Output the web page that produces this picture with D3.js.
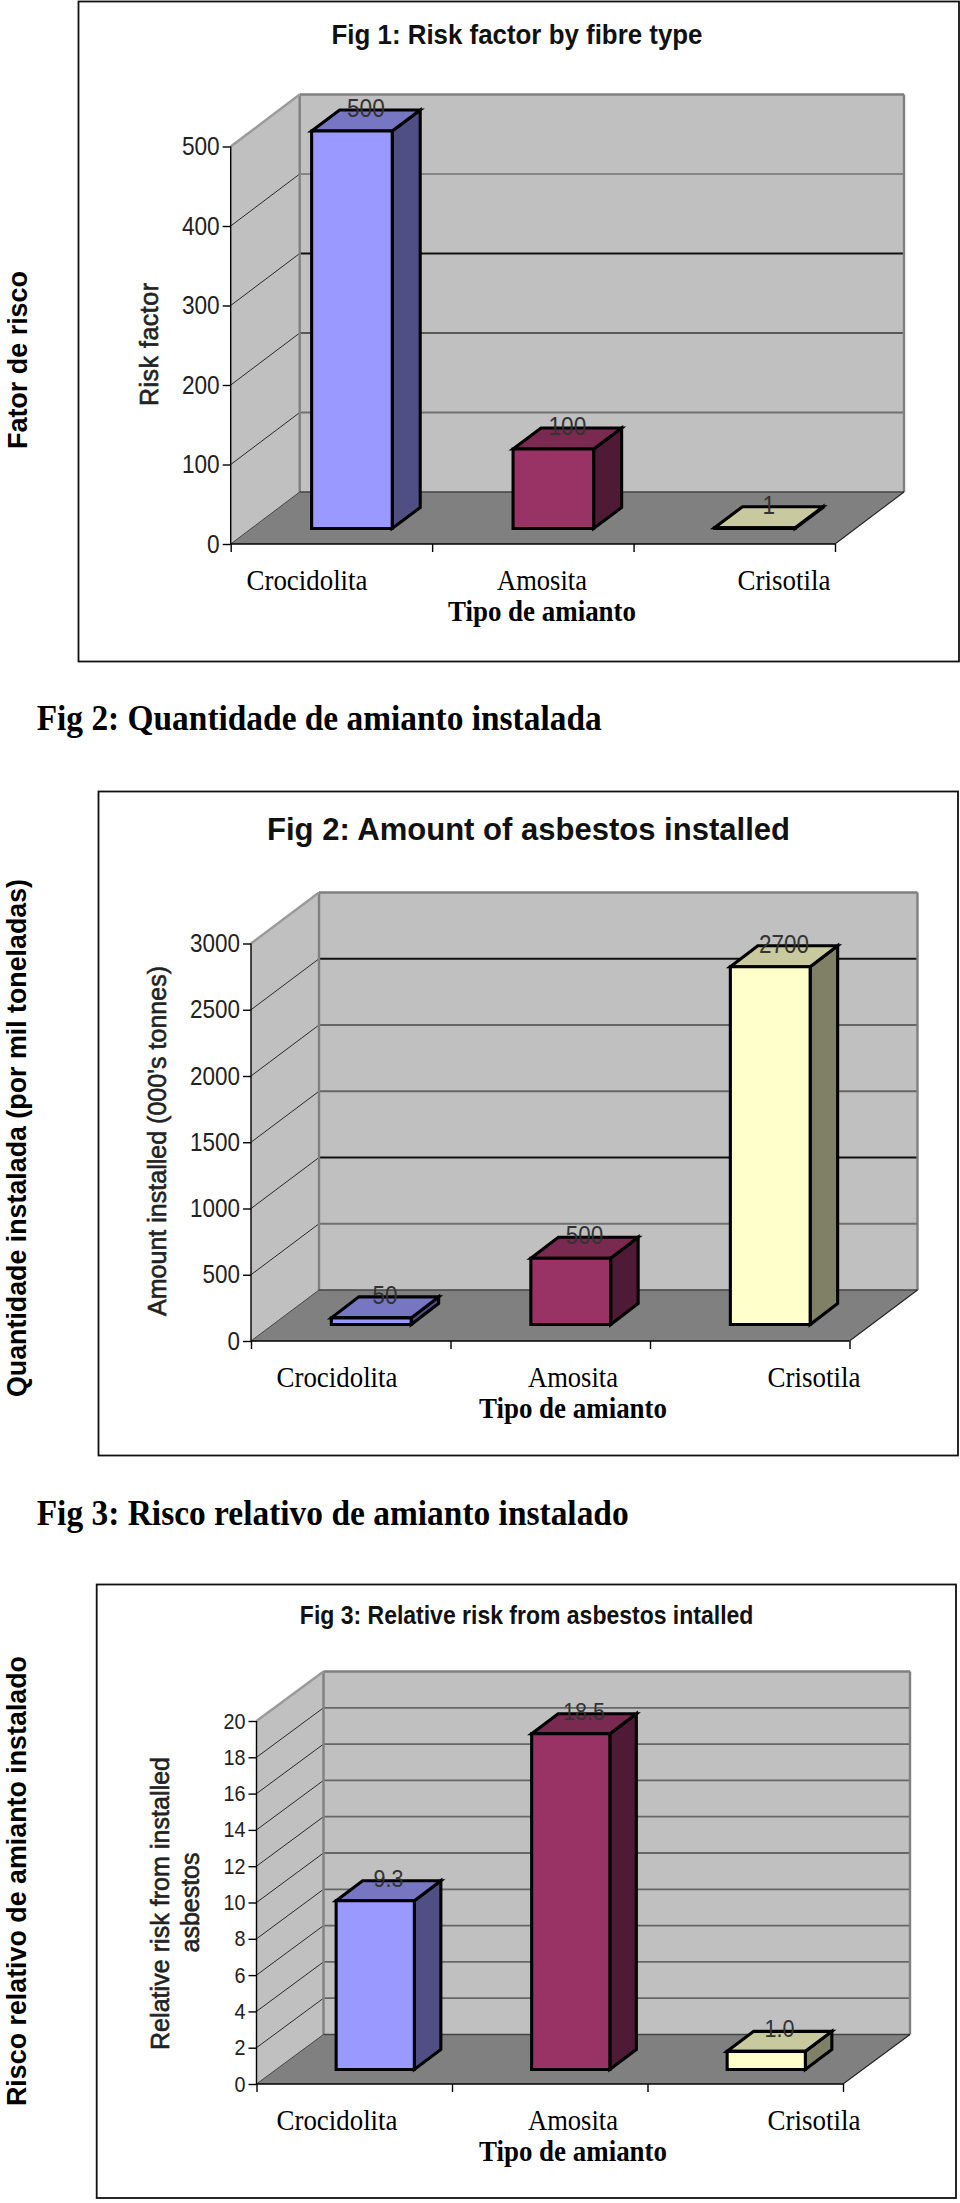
<!DOCTYPE html>
<html><head><meta charset="utf-8">
<script src="https://d3js.org/d3.v7.min.js"></script>
<style>html,body{margin:0;padding:0;background:#fff}svg{display:block}</style>
</head><body><svg id="c" width="960" height="2203"></svg>
<script>
const categories = ["Crocidolita","Amosita","Crisotila"];
const riskValues = [500,100,1];
const amountValues = [50,500,2700];
const relativeValues = [9.3,18.5,1.0];
const riskLabels = ["500","100","1"];
const amountLabels = ["50","500","2700"];
const relativeLabels = ["9.3","18.5","1.0"];
const riskTicks = [0,100,200,300,400,500];
const amountTicks = [0,500,1000,1500,2000,2500,3000];
const relativeTicks = [0,2,4,6,8,10,12,14,16,18,20];
const xTitle = "Tipo de amianto";
const barColors = [
  {front:"#9999ff",side:"#4f4f85",top:"#7676c2"},
  {front:"#993366",side:"#4f1a35",top:"#7a2951"},
  {front:"#ffffcc",side:"#808066",top:"#c9c9a0"}
];
const SANS="'Liberation Sans',Arial,sans-serif", SERIF="'Liberation Serif','Times New Roman',serif";
const svg=d3.select("#c");

function txt(s,o){
  const t=s.append("text").text(o.t)
    .attr("font-family",o.f||SANS).attr("font-size",o.s)
    .attr("font-weight",o.w||"normal").attr("fill",o.c||"#000")
    .attr("text-anchor",o.a||"middle");
  if(o.len) t.attr("textLength",o.len).attr("lengthAdjust",o.adj||"spacingAndGlyphs");
  if(o.sw) t.attr("stroke",o.c||"#000").attr("stroke-width",o.sw);
  if(o.rot) t.attr("transform",`translate(${o.x},${o.y}) rotate(-90)`);
  else t.attr("x",o.x).attr("y",o.y);
  return t;
}
const poly=(s,pts,fill)=>s.append("polygon").attr("points",pts.map(p=>p.join(",")).join(" ")).attr("fill",fill);
function outline(s,pts,fill,sw){
  return poly(s,pts,fill).attr("stroke","#000").attr("stroke-width",sw).attr("stroke-linejoin","miter");
}

function chart(c){
  const g=svg.append("g");
  g.append("rect").attr("x",c.frame[0]).attr("y",c.frame[1]).attr("width",c.frame[2]-c.frame[0]).attr("height",c.frame[3]-c.frame[1])
    .attr("fill","#fff").attr("stroke","#111").attr("stroke-width",1.8);
  const y=d3.scaleLinear().domain([0,c.max]).range([c.y0,c.yTop]);
  const xb=d3.scaleBand().domain(categories).range([c.x0,c.x1]).paddingInner(.6).paddingOuter(.3);
  const xe=d3.scaleLinear().domain([0,3]).range([c.x0,c.x1]);
  const {dx,dy}=c;
  poly(g,[[c.x0+dx,y(c.max)-dy],[c.x1+dx,y(c.max)-dy],[c.x1+dx,c.y0-dy],[c.x0+dx,c.y0-dy]],"#c0c0c0");
  poly(g,[[c.x0,y(c.max)],[c.x0+dx,y(c.max)-dy],[c.x0+dx,c.y0-dy],[c.x0,c.y0]],"#c0c0c0");
  poly(g,[[c.x0,c.y0],[c.x1,c.y0],[c.x1+dx,c.y0-dy],[c.x0+dx,c.y0-dy]],"#808080");
  const inner=c.ticks.filter(v=>v>0&&v<c.max);
  g.selectAll(null).data(inner).join("line")
    .attr("x1",c.x0+dx).attr("x2",c.x1+dx).attr("y1",v=>y(v)-dy).attr("y2",v=>y(v)-dy)
    .attr("stroke",(v,i)=>c.gridStyle[i%c.gridStyle.length]).attr("stroke-width",1.8);
  g.selectAll(null).data(inner).join("line")
    .attr("x1",c.x0).attr("x2",c.x0+dx).attr("y1",v=>y(v)).attr("y2",v=>y(v)-dy)
    .attr("stroke","#2a2a2a").attr("stroke-width",1);
  const edge=(a,b,col,w)=>g.append("line").attr("x1",a[0]).attr("y1",a[1]).attr("x2",b[0]).attr("y2",b[1]).attr("stroke",col).attr("stroke-width",w);
  edge([c.x0+dx,y(c.max)-dy],[c.x1+dx,y(c.max)-dy],"#808080",2.4);
  edge([c.x1+dx,y(c.max)-dy],[c.x1+dx,c.y0-dy],"#808080",2.4);
  edge([c.x0+dx,y(c.max)-dy],[c.x0+dx,c.y0-dy],"#808080",2.4);
  edge([c.x0,y(c.max)],[c.x0+dx,y(c.max)-dy],"#9a9a9a",2.4);
  edge([c.x0+dx,c.y0-dy],[c.x1+dx,c.y0-dy],"#444",1.4);
  edge([c.x0,c.y0],[c.x0+dx,c.y0-dy],"#444",1);
  edge([c.x1,c.y0],[c.x1+dx,c.y0-dy],"#222",1.1);
  const ay=g.append("g").attr("transform",`translate(${c.x0},0)`)
    .call(d3.axisLeft(y).tickValues(c.ticks).tickSize(8).tickPadding(3).tickFormat(d3.format("d")));
  ay.selectAll("text").attr("font-family",SANS).attr("font-size",c.tickSize).attr("fill","#222")
    .attr("textLength",v=>String(v).length*c.tickW).attr("lengthAdjust","spacingAndGlyphs");
  const ax=g.append("g").attr("transform",`translate(0,${c.y0})`)
    .call(d3.axisBottom(xe).tickValues([0,1,2,3]).tickSize(8).tickFormat(""));
  ax.selectAll("path,line").attr("stroke","#000").attr("stroke-width",1.4);
  ay.selectAll("path,line").attr("stroke","#000").attr("stroke-width",1.4);
  ax.select("path").attr("d",`M${c.x0},0H${c.x1}`);
  ay.select("path").attr("d",`M0,${y(c.max)}V${c.y0}`);
  const bw=xb.bandwidth(), ox=c.shift[0], oy=c.shift[1], bx=c.depth[0], by=c.depth[1];
  c.values.forEach((v,i)=>{
    const cat=categories[i], col=barColors[i];
    const L=xb(cat)+ox, R=L+bw, B=c.y0-oy, T=B-(c.y0-y(v));
    outline(g,[[R,T],[R+bx,T-by],[R+bx,B-by],[R,B]],col.side,3.1);
    outline(g,[[L,T],[L+bx,T-by],[R+bx,T-by],[R,T]],col.top,3.1);
    outline(g,[[L,T],[R,T],[R,B],[L,B]],col.front,3.1);
    const lab=c.labels[i];
    txt(g,{t:lab,x:(L+R)/2+bx/2,y:T-by+c.labelDy,s:c.labelSize,c:"#333",len:lab.replace(".","").length*c.labelW+(lab.includes(".")?c.labelW/2:0)});
  });
  txt(g,{t:c.title,x:c.titleX,y:c.titleY,s:c.titleSize,w:"bold",len:c.titleLen,c:"#111"});
  c.yTitle.forEach(l=>txt(g,{t:l.t,x:l.x,y:l.y,s:l.s,rot:true,len:l.len,c:"#222",sw:.6,adj:"spacing"}));
  txt(g,{t:c.side.t,x:c.side.x,y:c.side.y,s:c.side.s,w:"bold",rot:true,len:c.side.len});
  categories.forEach((cat,i)=>txt(g,{t:cat,x:c.catX[i],y:c.catY,s:29,f:SERIF,len:[121,90,93][i]}));
  txt(g,{t:xTitle,x:c.catX[1],y:c.catY+31,s:29,f:SERIF,w:"bold",len:188});
}

chart({frame:[78.5,1.5,959,661.5],x0:230.7,x1:835,y0:544,yTop:146.5,max:500,dx:69,dy:52,shift:[20.5,15.5],depth:[28,21],
  values:riskValues,labels:riskLabels,ticks:riskTicks,tickSize:25,tickW:12.6,labelSize:25,labelW:12.6,labelDy:7,
  gridStyle:["#707070","#585858","#111","#858585"],
  title:"Fig 1: Risk factor by fibre type",titleX:517,titleY:44,titleSize:28,titleLen:371,
  yTitle:[{t:"Risk factor",x:157.5,y:344.5,s:25,len:123}],
  side:{t:"Fator de risco",x:26.5,y:360,s:28,len:178},
  catX:[307,542,784],catY:590});
chart({frame:[98.5,791.5,958,1455.5],x0:251,x1:849.5,y0:1341,yTop:943.5,max:3000,dx:68,dy:51,shift:[20.5,16.5],depth:[27.5,21],
  values:amountValues,labels:amountLabels,ticks:amountTicks,tickSize:25,tickW:12.5,labelSize:25,labelW:12.5,labelDy:7,
  gridStyle:["#707070","#111","#666","#666","#111"],
  title:"Fig 2: Amount of asbestos installed",titleX:528.5,titleY:840,titleSize:32,titleLen:523,
  yTitle:[{t:"Amount installed (000's tonnes)",x:166,y:1141,s:25,len:350}],
  side:{t:"Quantidade instalada (por mil toneladas)",x:26,y:1138,s:28,len:518},
  catX:[337,573,814],catY:1387});
chart({frame:[96.7,1584.5,956,2198],x0:256.5,x1:843,y0:2084,yTop:1721,max:20,dx:67,dy:49.5,shift:[21,14.5],depth:[26.5,20],
  values:relativeValues,labels:relativeLabels,ticks:relativeTicks,tickSize:22,tickW:11,labelSize:24,labelW:12,labelDy:6,
  gridStyle:["#666"],
  title:"Fig 3: Relative risk from asbestos intalled",titleX:526.6,titleY:1624,titleSize:25,titleLen:453.5,
  yTitle:[{t:"Relative risk from installed",x:168.5,y:1903.5,s:25,len:293},{t:"asbestos",x:198.5,y:1902.5,s:25,len:100}],
  side:{t:"Risco relativo de amianto instalado",x:26,y:1881,s:28,len:450},
  catX:[337,573,814],catY:2130});

txt(svg,{t:"Fig 2: Quantidade de amianto instalada",x:36.7,y:730,s:35,f:SERIF,w:"bold",a:"start",len:565});
txt(svg,{t:"Fig 3: Risco relativo de amianto instalado",x:36.7,y:1525,s:35,f:SERIF,w:"bold",a:"start",len:592});
</script></body></html>
